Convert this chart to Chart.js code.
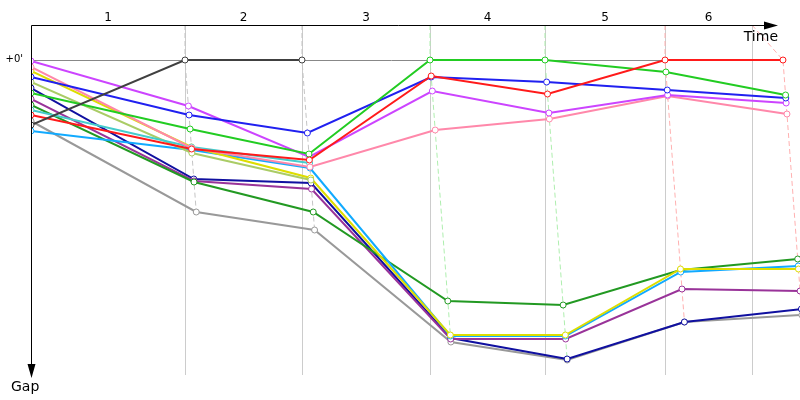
<!DOCTYPE html>
<html>
<head>
<meta charset="utf-8">
<script src="https://cdn.jsdelivr.net/npm/chart.js@4.4.1/dist/chart.umd.min.js"></script>
<style>
    html, body { margin: 0; padding: 0; background: #fff; }
    #wrap { width: 800px; height: 400px; }
</style>
</head>
<body>
<div id="wrap"><canvas id="gapChart"></canvas></div>
<script>
// Stage names and timing (time units = gap units, so a rider's point sits at leader time + gap)
const stageLabels = ['1', '2', '3', '4', '5', '6'];
const stageMarks = [0, 2081, 3662, 5392, 6946, 8568, 9743];     // vertical grid lines
const leaderTimes = [0, 2081, 3662, 5392, 6946, 8568, 10162];   // time of the leader at each checkpoint
const dashColors = [null, '#c4c4c4', '#c4c4c4', '#aeeeae', '#aeeeae', '#ffb0b0', '#ffb0b0'];

// Gap to the leader at start and after each stage (null = out of the race)
const gapDarkGray  = [65, 0, 0, null, null, null, null];
const gapMagenta   = [1, 46, 97, 31, 53, 35, 43];
const gapPink      = [7, 88, 107, 70, 59, 36, 54];
const gapYellow    = [11, 87, 118, 275, 275, 209, 209];
const gapBlue      = [17, 55, 73, 17, 22, 30, 38];
const gapOlive     = [22, 93, 120, null, null, null, null];
const gapNavy      = [28, 119, 123, 278, 299, 262, 249];
const gapGreen     = [33, 69, 94, 0, 0, 12, 35];
const gapPurple    = [39, 121, 129, 279, 279, 229, 231];
const gapDarkGreen = [45, 122, 152, 241, 245, 210, 199];
const gapCyan      = [50, 87, 103, null, null, null, null];
const gapRed       = [55, 89, 100, 16, 34, 0, 0];
const gapGray      = [61, 152, 170, 282, 300, 262, 255];
const gapSkyBlue   = [71, 90, 108, 276, 276, 212, 206];

const riders = [
    { gaps: gapDarkGray,  color: '#404040' },
    { gaps: gapRed,       color: '#ff1a1a' },
    { gaps: gapGreen,     color: '#22cc22' },
    { gaps: gapBlue,      color: '#2020f0' },
    { gaps: gapMagenta,   color: '#cc44ff' },
    { gaps: gapPink,      color: '#ff88aa' },
    { gaps: gapCyan,      color: '#44cccc' },
    { gaps: gapOlive,     color: '#aacc66' },
    { gaps: gapYellow,    color: '#dddd00' },
    { gaps: gapSkyBlue,   color: '#11aaff' },
    { gaps: gapDarkGreen, color: '#229922' },
    { gaps: gapPurple,    color: '#993399' },
    { gaps: gapNavy,      color: '#1010a0' },
    { gaps: gapGray,      color: '#999999' }
];

function toPoints(gaps) {
    const pts = [];
    gaps.forEach((g, i) => {
        if (g === null) return;
        pts.push({ x: i === 0 ? 0 : leaderTimes[i] + g, y: g });
    });
    return pts;
}

const datasets = riders.map(r => ({
    data: toPoints(r.gaps),
    borderColor: r.color,
    borderWidth: 2,
    pointRadius: 3,
    pointBorderWidth: 1,
    pointBackgroundColor: '#ffffff',
    pointBorderColor: r.color,
    tension: 0
}));

// Grid, zero line and the dashed "same checkpoint" lines, under the series
const backdrop = {
    id: 'backdrop',
    beforeDatasetsDraw(chart) {
        const { ctx, chartArea, scales: { x, y } } = chart;
        const top = chartArea.top;
        const bottom = chartArea.bottom;
        ctx.save();
        ctx.lineWidth = 1;
        ctx.strokeStyle = '#cccccc';
        stageMarks.slice(1).forEach(t => {
            const px = Math.round(x.getPixelForValue(t)) + 0.5;
            ctx.beginPath();
            ctx.moveTo(px, top);
            ctx.lineTo(px, bottom);
            ctx.stroke();
        });
        // zero gap line
        const zy = Math.round(y.getPixelForValue(0)) + 0.5;
        ctx.strokeStyle = '#888888';
        ctx.beginPath();
        ctx.moveTo(chartArea.left, zy);
        ctx.lineTo(x.getPixelForValue(stageMarks[stageMarks.length - 1]), zy);
        ctx.stroke();

        // dashed lines joining the riders at each checkpoint
        ctx.setLineDash([5, 3]);
        for (let i = 1; i < leaderTimes.length; i++) {
            const gaps = riders.map(r => r.gaps[i]).filter(g => g !== null).sort((a, b) => a - b);
            ctx.strokeStyle = dashColors[i];
            ctx.beginPath();
            ctx.moveTo(x.getPixelForValue(stageMarks[i]), top);
            gaps.forEach(g => ctx.lineTo(x.getPixelForValue(leaderTimes[i] + g), y.getPixelForValue(g)));
            ctx.stroke();
        }
        ctx.restore();
    },
    afterDatasetsDraw(chart) {
        const { ctx, chartArea, scales: { x, y } } = chart;
        const left = chartArea.left + 0.5;
        const top = chartArea.top + 0.5;
        ctx.save();
        ctx.strokeStyle = '#000';
        ctx.fillStyle = '#000';
        ctx.lineWidth = 1;
        // time axis
        ctx.beginPath();
        ctx.moveTo(left, top);
        ctx.lineTo(766, top);
        ctx.stroke();
        ctx.beginPath();
        ctx.moveTo(778, top);
        ctx.lineTo(764, top - 4);
        ctx.lineTo(764, top + 4);
        ctx.closePath();
        ctx.fill();
        // gap axis
        ctx.beginPath();
        ctx.moveTo(left, top);
        ctx.lineTo(left, 366);
        ctx.stroke();
        ctx.beginPath();
        ctx.moveTo(left, 378);
        ctx.lineTo(left - 4, 364);
        ctx.lineTo(left + 4, 364);
        ctx.closePath();
        ctx.fill();

        // stage numbers
        ctx.font = '12px "DejaVu Sans"';
        ctx.textAlign = 'center';
        ctx.textBaseline = 'middle';
        stageLabels.forEach((s, i) => {
            const mid = (x.getPixelForValue(stageMarks[i]) + x.getPixelForValue(stageMarks[i + 1])) / 2;
            ctx.fillText(s, mid, 18);
        });

        ctx.font = '14px "DejaVu Sans"';
        ctx.textAlign = 'right';
        ctx.textBaseline = 'alphabetic';
        ctx.fillText('Time', 778, 41);
        ctx.textAlign = 'left';
        ctx.fillText('Gap', 11, 391);

        ctx.font = '10px "DejaVu Sans"';
        ctx.textAlign = 'right';
        ctx.textBaseline = 'middle';
        ctx.fillText("+0'", 23, y.getPixelForValue(0) - 1);
        ctx.restore();
    }
};

new Chart(document.getElementById('gapChart'), {
    type: 'line',
    data: { datasets },
    options: {
        responsive: true,
        maintainAspectRatio: false,
        animation: false,
        layout: { autoPadding: false, padding: { left: 31, top: 25, right: 0, bottom: 25 } },
        scales: {
            x: { type: 'linear', min: 0, max: 10392, display: false },
            y: { type: 'linear', min: -35, max: 315, reverse: true, display: false }
        },
        plugins: {
            legend: { display: false },
            tooltip: { enabled: false }
        }
    },
    plugins: [backdrop]
});
</script>
</body>
</html>
